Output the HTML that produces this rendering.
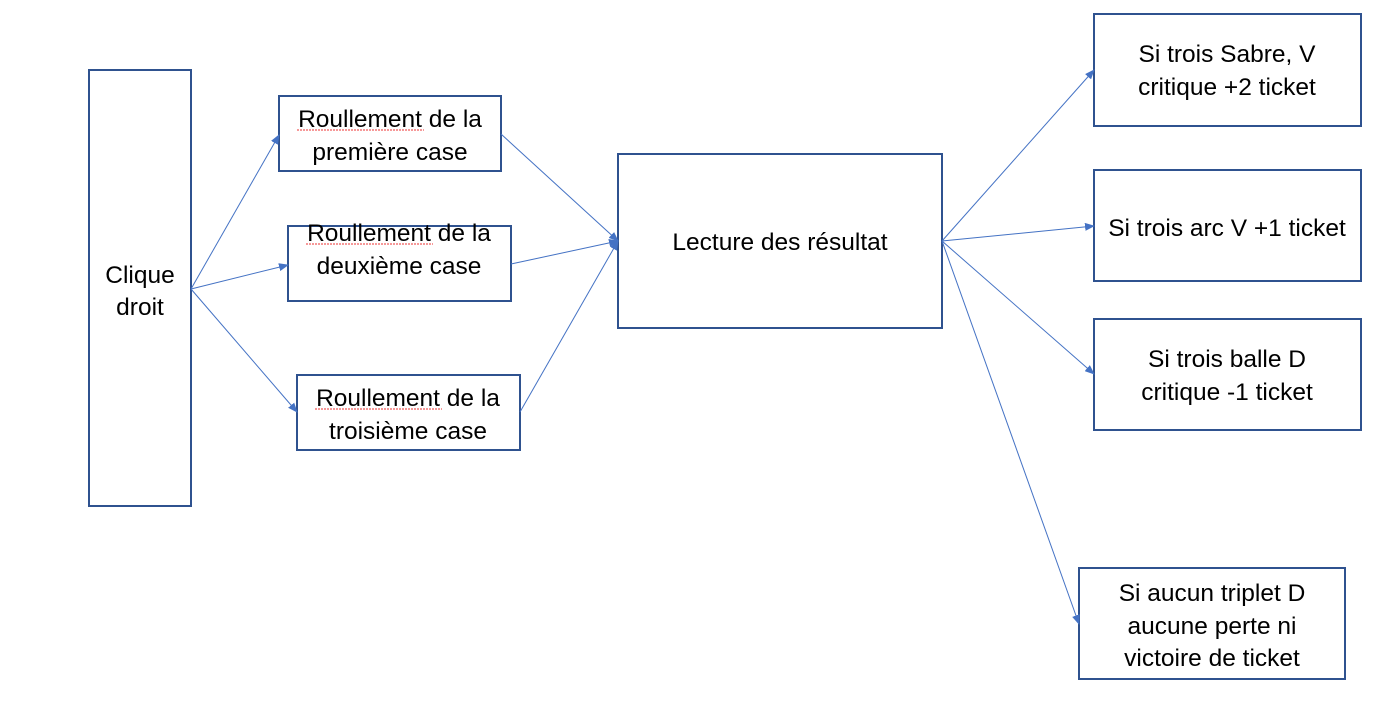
<!DOCTYPE html>
<html><head><meta charset="utf-8"><style>
html,body{margin:0;padding:0;background:#fff;width:1399px;height:703px;overflow:hidden}
svg text{font-family:"Liberation Sans",sans-serif;font-size:24.5px;fill:#000;text-anchor:middle}
</style></head><body>
<svg width="1399" height="703" viewBox="0 0 1399 703" xmlns="http://www.w3.org/2000/svg">
<defs><marker id="a" markerWidth="10" markerHeight="8" refX="9" refY="4" orient="auto" markerUnits="userSpaceOnUse"><path d="M0,0 L10,4 L0,8 z" fill="#4472C4"/></marker></defs>
<g fill="none" stroke="#2F528F" stroke-width="2">
<rect x="89" y="70" width="102" height="436"/>
<rect x="279" y="96" width="222" height="75"/>
<rect x="288" y="226" width="223" height="75"/>
<rect x="297" y="375" width="223" height="75"/>
<rect x="618" y="154" width="324" height="174"/>
<rect x="1094" y="14" width="267" height="112"/>
<rect x="1094" y="170" width="267" height="111"/>
<rect x="1094" y="319" width="267" height="111"/>
<rect x="1079" y="568" width="266" height="111"/>
</g>
<g stroke="#4472C4" stroke-width="1" marker-end="url(#a)">
<line x1="191" y1="289" x2="279" y2="135"/>
<line x1="191" y1="289" x2="288" y2="265"/>
<line x1="191" y1="289" x2="297" y2="412"/>
<line x1="501" y1="134" x2="618" y2="241"/>
<line x1="511" y1="264" x2="618" y2="241"/>
<line x1="520" y1="412" x2="618" y2="241"/>
<line x1="942" y1="241" x2="1094" y2="70"/>
<line x1="942" y1="241" x2="1094" y2="226"/>
<line x1="942" y1="241" x2="1094" y2="374"/>
<line x1="942" y1="241" x2="1079" y2="624"/>
</g>
<g stroke="#e33" stroke-width="1" fill="none" stroke-dasharray="2,1">
<line x1="297" y1="130" x2="424" y2="130"/>
<line x1="306" y1="244" x2="433" y2="244"/>
<line x1="315" y1="409" x2="442" y2="409"/>
</g>
<text x="140" y="283">Clique</text>
<text x="140" y="315">droit</text>
<text x="390" y="127">Roullement de la</text>
<text x="390" y="160">première case</text>
<text x="399" y="241">Roullement de la</text>
<text x="399" y="274">deuxième case</text>
<text x="408" y="406">Roullement de la</text>
<text x="408" y="439">troisième case</text>
<text x="780" y="250">Lecture des résultat</text>
<text x="1227" y="62">Si trois Sabre, V</text>
<text x="1227" y="95">critique +2 ticket</text>
<text x="1227" y="236">Si  trois arc V +1 ticket</text>
<text x="1227" y="367">Si trois balle D</text>
<text x="1227" y="400">critique -1 ticket</text>
<text x="1212" y="601">Si aucun triplet D</text>
<text x="1212" y="634">aucune perte ni</text>
<text x="1212" y="666">victoire de ticket</text>
</svg>
</body></html>
